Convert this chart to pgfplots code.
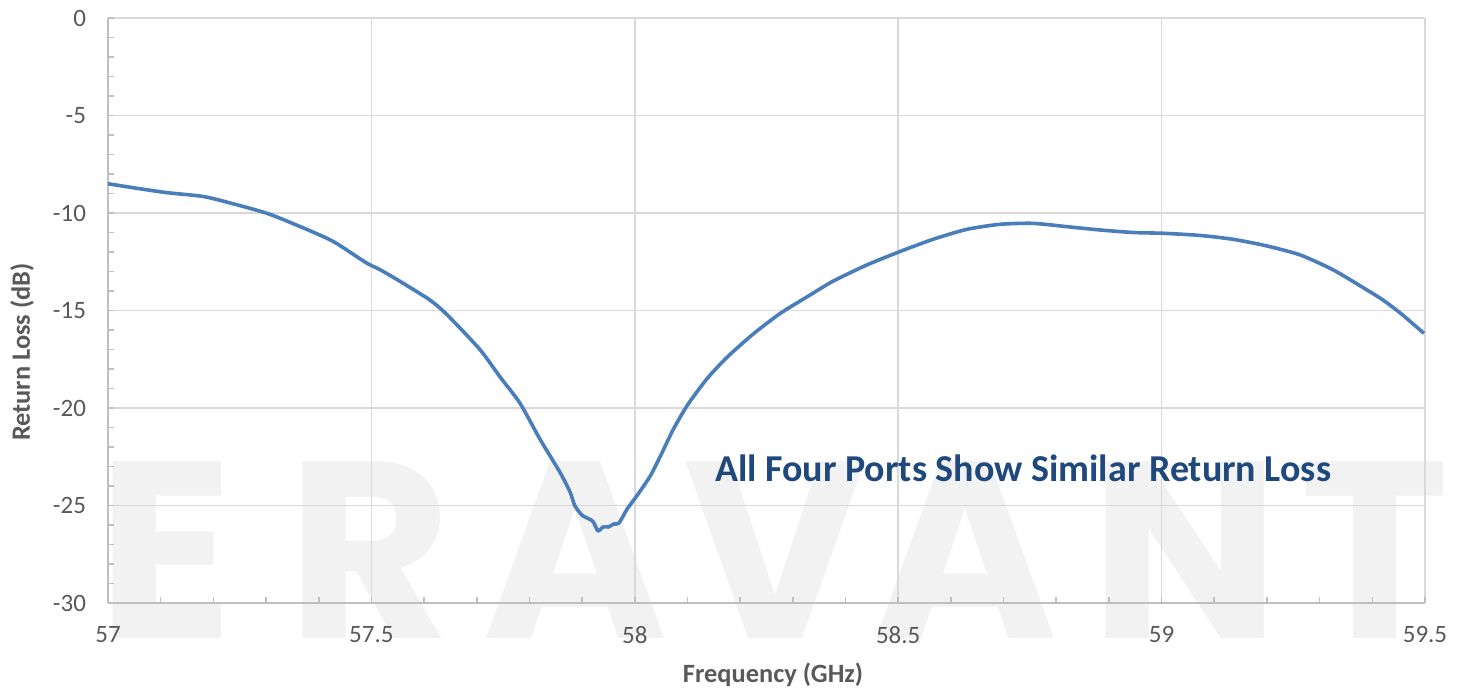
\documentclass[border=0pt]{standalone}
\usepackage{fontspec}
\setmainfont{Carlito}
\newfontfamily\wmfont{Poppins}
\usepackage{pgfplots}
\pgfplotsset{compat=1.18}
\definecolor{gridc}{HTML}{D9D9D9}
\definecolor{axc}{HTML}{BFBFBF}
\definecolor{txt}{HTML}{595959}
\definecolor{curve}{HTML}{4A7EBB}
\definecolor{note}{HTML}{1F497D}
\definecolor{wm}{HTML}{F2F2F2}
\begin{document}
\begin{tikzpicture}
\useasboundingbox (-54pt,-44.5pt) rectangle (679pt,301.5pt);
\foreach \x/\l in {166/E,370/R,575/A,775/V,965/A,1185/N,1375/T} {
  \node[anchor=base, text=wm, font=\wmfont\bfseries\fontsize{126}{126}\selectfont, inner sep=0pt] at ({(\x-108)*0.5pt},-17.5pt) {\l};
}
\begin{axis}[
  at={(0,0)}, anchor=south west,
  scale only axis, width=658.5pt, height=292.5pt,
  xmin=57, xmax=59.5, ymin=-30, ymax=0,
  xtick={57,57.5,58,58.5,59,59.5}, ytick={-30,-25,-20,-15,-10,-5,0},
  minor x tick num=4, minor y tick num=4,
  axis x line=bottom, axis y line=left,
  axis line style={-, draw=axc, line width=1pt},
  tick align=inside, major tick length=3pt, minor tick length=3pt,
  every tick/.style={draw=axc, line width=0.8pt},
  every minor tick/.style={draw=axc, line width=0.8pt},
  grid=major, major grid style={draw=gridc, line width=0.8pt},
  /pgf/number format/assume math mode=true,
  ticklabel style={font=\fontsize{12.5}{14}\selectfont, text=txt},
  yticklabel style={xshift=-7.5pt},
  xticklabel style={yshift=-8pt},
  xlabel={Frequency (GHz)}, ylabel={Return Loss (dB)},
  every axis x label/.style={at={(axis description cs:0.505,-0.123)}, anchor=center, font=\bfseries\fontsize{13.2}{15}\selectfont, text=txt},
  every axis y label/.style={at={(axis description cs:-0.0653,0.429)}, anchor=center, rotate=90, font=\bfseries\fontsize{13.2}{15}\selectfont, text=txt},
  clip=false,
]
\addplot[curve, line width=1.8pt, line join=round, smooth, tension=0.4] table {
57.000 -8.50
57.047 -8.70
57.110 -8.95
57.175 -9.13
57.210 -9.33
57.300 -10.00
57.365 -10.70
57.427 -11.45
57.490 -12.55
57.516 -12.90
57.554 -13.50
57.611 -14.46
57.643 -15.20
57.706 -17.00
57.744 -18.40
57.782 -19.75
57.820 -21.60
57.858 -23.30
57.877 -24.30
57.886 -25.00
57.900 -25.50
57.920 -25.80
57.930 -26.30
57.940 -26.10
57.950 -26.10
57.960 -25.95
57.970 -25.90
57.985 -25.20
58.004 -24.50
58.029 -23.50
58.048 -22.50
58.073 -21.10
58.100 -19.85
58.137 -18.50
58.175 -17.40
58.225 -16.20
58.276 -15.15
58.333 -14.20
58.376 -13.50
58.440 -12.67
58.503 -11.98
58.566 -11.35
58.630 -10.84
58.693 -10.58
58.756 -10.53
58.820 -10.70
58.883 -10.87
58.946 -11.00
59.003 -11.04
59.073 -11.15
59.136 -11.35
59.200 -11.69
59.263 -12.15
59.326 -12.92
59.390 -13.95
59.420 -14.46
59.454 -15.15
59.498 -16.17
};
\node[font=\bfseries\fontsize{19}{22}\selectfont, text=note] at (axis cs:58.737,-23.08) {All Four Ports Show Similar Return Loss};
\end{axis}
\end{tikzpicture}
\end{document}
